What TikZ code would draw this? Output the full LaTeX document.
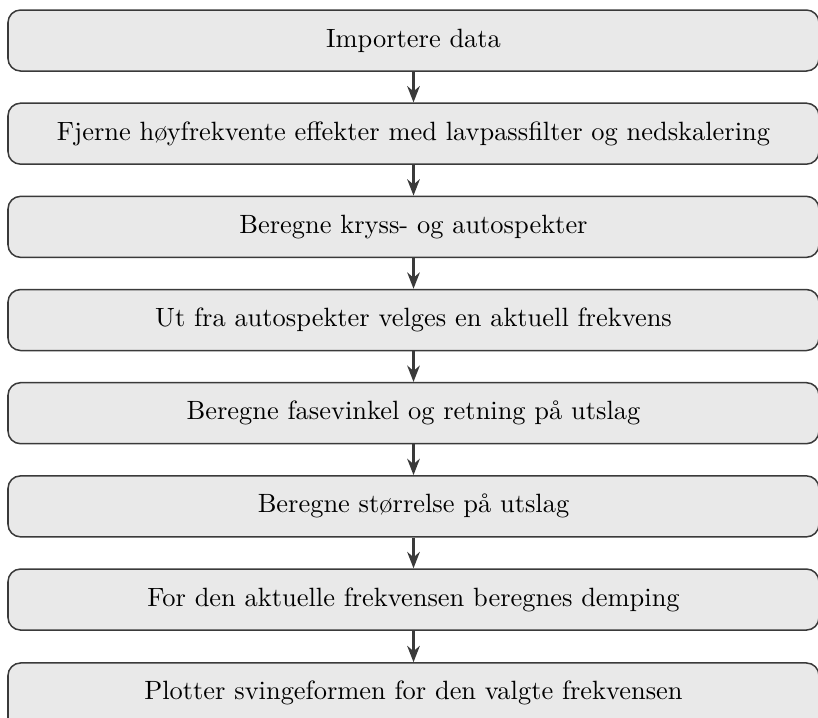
\documentclass[tikz,border=0pt]{standalone}
\usetikzlibrary{arrows.meta}
\definecolor{boxfill}{HTML}{E9E9E9}
\definecolor{boxline}{HTML}{3A3A3A}
\tikzset{
  stepbox/.style={draw=boxline, fill=boxfill, line width=0.6pt, rounded corners=5pt,
    minimum width=811*0.3985pt, minimum height=61*0.3985pt, inner sep=0pt,
    font=\fontsize{10.53pt}{12.6pt}\selectfont},
  steptext/.style={inner sep=0pt, font=\fontsize{10.53pt}{12.6pt}\selectfont},
  flowarrow/.style={draw=boxline, line width=1.3pt, -{Stealth[length=6.5pt,width=5pt]}}
}
\begin{document}
\begin{tikzpicture}[x=0.3985pt,y=-0.3985pt]
\useasboundingbox (0,0) rectangle (818,717);
\clip (0,0) rectangle (818,717);
\foreach \i/\t in {1/{Importere data},
  2/{Fjerne høyfrekvente effekter med lavpassfilter og nedskalering},
  3/{Beregne kryss- og autospekter},
  4/{Ut fra autospekter velges en aktuell frekvens},
  5/{Beregne fasevinkel og retning på utslag},
  6/{Beregne størrelse på utslag},
  7/{For den aktuelle frekvensen beregnes demping}}
  \node[stepbox] (b\i) at (413.5, {40.5+(\i-1)*93.17}) {\t};
\node[stepbox, minimum height=90*0.3985pt, anchor=north] (b8) at (413.5, 662.2) {};
\node[steptext] (t8) at (413.5, 692.7) {Plotter svingeformen for den valgte frekvensen};
\foreach \i [evaluate=\i as \j using int(\i+1)] in {1,...,7}
  \draw[flowarrow] (b\i.south) -- (b\j.north);
\end{tikzpicture}
\end{document}
